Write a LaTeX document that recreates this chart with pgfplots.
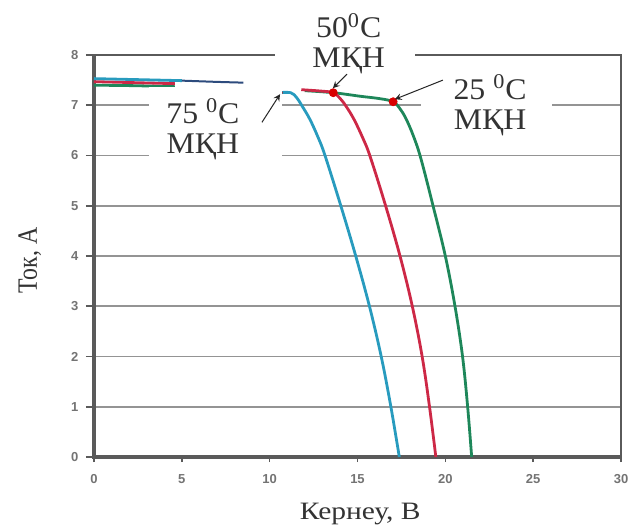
\documentclass[border=0pt]{standalone}
\usepackage{fontspec}
\setmainfont{Liberation Serif}
\setsansfont{Liberation Sans}
\newfontfamily\xlabfont[FakeStretch=1.18]{Liberation Serif}
\newfontfamily\ylabfont[FakeStretch=0.85]{Liberation Serif}
\newfontfamily\annfont[FakeStretch=1.06]{Liberation Serif}
\usepackage{pgfplots}
\pgfplotsset{compat=1.18}
\definecolor{cblue}{RGB}{40,155,190}
\definecolor{cnavy}{RGB}{45,75,125}
\definecolor{cred}{RGB}{205,40,70}
\definecolor{cgreen}{RGB}{30,135,90}
\definecolor{cframe}{RGB}{90,90,90}
\begin{document}
\begin{tikzpicture}
\useasboundingbox (-47bp,-35.5bp) rectangle (268.5bp,228.5bp);
\begin{axis}[name=ax, at={(0,0)}, anchor=south west,
  scale only axis, width=263.5bp, height=201bp,
  xmin=0, xmax=30, ymin=0, ymax=8,
  xtick={0,5,...,30}, ytick={0,1,...,8},
  xtick pos=bottom, ytick pos=left,
  ymajorgrids, grid style={black!42, line width=0.8bp},
  axis line style={cframe, line width=1bp},
  tick style={cframe, line width=0.8bp},
  tick align=outside,
  xtick style={/pgfplots/major tick length=2.5bp},
  ytick style={/pgfplots/major tick length=4bp},
  ticklabel style={font=\fontsize{6.5bp}{7bp}\selectfont\sffamily\bfseries, text=black!55},
  xticklabel style={yshift=-1bp},
  /pgf/number format/assume math mode=true,
  xlabel={Кернеу, В}, ylabel={Ток, А},
  xlabel style={font=\fontsize{12.5bp}{14bp}\xlabfont, text=black!80,
    at={(axis description cs:0.505,0)}, anchor=base, yshift=-31bp},
  ylabel style={font=\fontsize{14bp}{15bp}\ylabfont, text=black!80,
    at={(axis description cs:-0.1082,0.489)}, anchor=base},
  clip=false]
\draw[cframe, line width=1.6bp] (rel axis cs:0,1) -- (rel axis cs:0,0) -- (rel axis cs:1,0);
% 25 C
\addplot[cgreen, line width=1.4bp] coordinates {(0,7.40) (2.3,7.39) (4.6,7.37)};
\addplot[cgreen, line width=1.4bp, smooth, tension=0.6] coordinates {(12.0,7.29) (13.62,7.25) (15.14,7.18) (16.3,7.13) (17.03,7.07) (17.4,6.94) (17.75,6.74) (18.17,6.40) (18.6,5.95) (19.3,5.0) (20.0,4.0) (20.55,3.0) (20.98,2.0) (21.27,1.0) (21.5,0)};
% 50 C
\addplot[cred, line width=1.4bp] coordinates {(0,7.47) (2.3,7.45) (4.6,7.43)};
\addplot[cred, line width=1.4bp, smooth, tension=0.6] coordinates {(11.8,7.31) (13.0,7.28) (13.62,7.25) (14.0,7.14) (14.35,6.98) (14.8,6.72) (15.3,6.35) (15.72,5.98) (16.6,5.0) (17.42,4.0) (18.12,3.0) (18.68,2.0) (19.1,1.0) (19.46,0)};
% 75 C
\addplot[cblue, line width=1.4bp] coordinates {(0,7.53) (2.5,7.51) (5,7.49)};
\addplot[cnavy, line width=1.0bp] coordinates {(5,7.49) (7,7.465) (8.5,7.45)};
\addplot[cblue, line width=1.4bp, smooth, tension=0.6] coordinates {(10.5,7.25) (11.2,7.25) (11.54,7.15) (11.82,7.0) (12.29,6.72) (12.77,6.35) (13.15,6.0) (14.05,5.0) (14.9,4.0) (15.68,3.0) (16.35,2.0) (16.9,1.0) (17.38,0)};
% MPP markers
\addplot[only marks, mark=*, mark size=2bp, color=red!85!black] coordinates {(13.62,7.25) (17.03,7.07)};
\addplot[only marks, mark=*, mark size=1bp, color=red!85!black] coordinates {(10.6,7.25)};
\coordinate (b50) at (axis cs:14.3,8.3);
\coordinate (t50) at (axis cs:14.5,8.23);
\coordinate (b75) at (axis cs:6.94,6.6);
\coordinate (t75) at (axis cs:6.2,6.52);
\coordinate (b25) at (axis cs:22.37,7.08);
\coordinate (t25) at (axis cs:22.55,7.0);
\coordinate (a75s) at (axis cs:9.56,6.66);
\coordinate (a75e) at (axis cs:10.59,7.22);
\coordinate (a50s) at (axis cs:14.4,7.62);
\coordinate (a50e) at (axis cs:13.6,7.34);
\coordinate (a25s) at (axis cs:19.86,7.5);
\coordinate (a25e) at (axis cs:17.13,7.12);
\end{axis}
\node[fill=white, minimum width=70bp, minimum height=33.5bp, inner sep=0] at (b50) {};
\node[fill=white, minimum width=66.5bp, minimum height=38.5bp, inner sep=0] at (b75) {};
\node[fill=white, minimum width=65.5bp, minimum height=33bp, inner sep=0] at (b25) {};
\begin{scope}[every node/.style={font=\fontsize{15bp}{15bp}\annfont, text=black!80, align=center, inner sep=0}]
\node at (t50) {50\textsuperscript{0}C\\МҚН};
\node at (t75) {75 \textsuperscript{0}C\\МҚН};
\node at (t25) {25 \textsuperscript{0}C\\МҚН};
\end{scope}
\draw[-stealth, black!85, line width=0.5bp] (a75s) -- (a75e);
\draw[-stealth, black!85, line width=0.5bp] (a50s) -- (a50e);
\draw[-stealth, black!85, line width=0.5bp] (a25s) -- (a25e);
\end{tikzpicture}
\end{document}
